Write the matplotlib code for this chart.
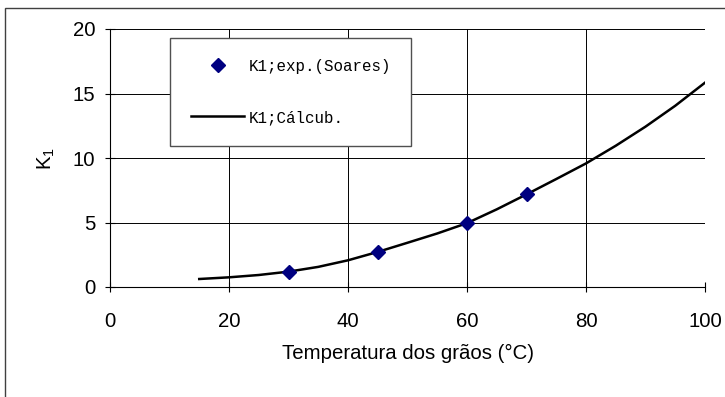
import matplotlib
matplotlib.use("Agg")
import matplotlib.pyplot as plt
from matplotlib.patches import Rectangle

plt.rcParams['font.family'] = ['Liberation Sans', 'DejaVu Sans']
plt.rcParams['mathtext.fontset'] = 'custom'
plt.rcParams['mathtext.rm'] = 'Liberation Sans'
plt.rcParams['mathtext.it'] = 'Liberation Sans'

# experimental K1 values (Soares)
temp_exp = [30, 45, 60, 70]
k1_exp = [1.19, 2.73, 4.93, 7.18]

# calculated K1 curve
temp_calc = [15, 20, 25, 30, 35, 40, 45, 50, 55, 60, 65, 70, 75, 80, 85, 90, 95, 100]
k1_calc = [0.62, 0.75, 0.93, 1.19, 1.56, 2.07, 2.72, 3.43, 4.15, 4.95, 6.02, 7.18,
           8.37, 9.58, 10.95, 12.43, 14.05, 15.84]

x_ticks = [0, 20, 40, 60, 80, 100]
y_ticks = [0, 5, 10, 15, 20]

fig = plt.figure(figsize=(7.25, 3.97), dpi=100)
ax = fig.add_axes([110 / 725, 1 - 287 / 397, 595 / 725, 258 / 397])

# outer chart frame
fig.patches.append(Rectangle((5 / 725, -0.2), 1.2, 1.2 - 8 / 397, transform=fig.transFigure,
                             fill=False, edgecolor='#404040', linewidth=1.0))

ax.plot(temp_exp, k1_exp, linestyle='none', marker='D', markersize=7,
        color='#000080', label='K1;exp.(Soares)', zorder=3)
ax.plot(temp_calc, k1_calc, color='black', linewidth=1.8,
        label='K1;Cálcub.', zorder=2)

ax.set_xlim(0, 100)
ax.set_ylim(0, 20)
ax.set_xticks(x_ticks)
ax.set_yticks(y_ticks)
ax.grid(True, color='black', linewidth=0.7)
ax.set_axisbelow(True)
for side in ['top', 'right']:
    ax.spines[side].set_visible(False)
for side in ['left', 'bottom']:
    ax.spines[side].set_linewidth(0.8)
ax.tick_params(direction='inout', length=7, width=0.8, labelsize=14.7, pad=7)
ax.tick_params(axis='x', pad=14.5)

ax.set_xlabel('Temperatura dos grãos (°C)', fontsize=14.7, labelpad=9.5)
ax.set_ylabel(r'$\mathregular{K_1}$', fontsize=14.7, labelpad=11.5)

leg = ax.legend(loc='upper left', bbox_to_anchor=(170 / 725, 1 - 38 / 397),
                bbox_transform=fig.transFigure, frameon=True, fancybox=False,
                prop={'family': 'Liberation Mono', 'size': 11.4},
                labelspacing=2.3, handlelength=3.4, handletextpad=0.25,
                borderpad=1.3, borderaxespad=0, framealpha=1, numpoints=1)
leg.get_frame().set_edgecolor('#505050')
leg.get_frame().set_linewidth(1.0)

fig.savefig('out.png', dpi=100)
